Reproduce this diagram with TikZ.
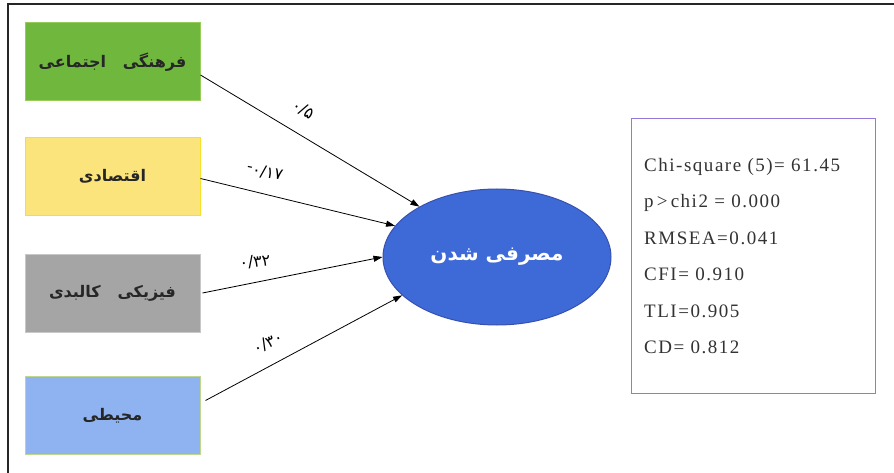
\documentclass[tikz,border=0pt]{standalone}
\usepackage{fontspec}
\setmainfont{Liberation Serif}
\newfontfamily\arabicfont[Script=Arabic]{DejaVu Sans}
\TeXXeTstate=1
\usetikzlibrary{shapes.geometric,arrows.meta,calc}
\definecolor{gfill}{RGB}{112,183,62}
\definecolor{gdraw}{RGB}{150,205,90}
\definecolor{yfill}{RGB}{252,228,125}
\definecolor{ydraw}{RGB}{245,225,40}
\definecolor{kfill}{RGB}{165,165,165}
\definecolor{kdraw}{RGB}{200,200,200}
\definecolor{bfill}{RGB}{143,178,240}
\definecolor{bdraw}{RGB}{190,215,140}
\definecolor{efill}{RGB}{62,106,216}
\definecolor{edraw}{RGB}{55,80,175}
\definecolor{sdraw}{RGB}{150,120,220}
\tikzset{
  factor/.style={draw=#1, line width=1pt, minimum width=175pt, minimum height=78pt, inner sep=0pt,
    font=\arabicfont\bfseries\fontsize{16}{18}\selectfont, text=black!85},
  path/.style={-{Triangle[length=9pt,width=6pt]}, line width=0.8pt, black},
  coef/.style={font=\arabicfont\fontsize{16}{18}\selectfont, inner sep=0pt},
}
\begin{document}
\begin{tikzpicture}[x=1pt,y=-1pt]
\useasboundingbox (0,0) rectangle (894,473);
\fill[white] (0,0) rectangle (894,473);
% frame
\draw[line width=2pt, black!85] (8,473) -- (8,4) -- (894,4);
% factor boxes
\node[factor=gdraw, fill=gfill] (g) at (112.5,62) {\beginR فرهنگی \ \ اجتماعی\endR};
\node[factor=ydraw, fill=yfill] (y) at (112.5,176.5) {\beginR اقتصادی\endR};
\node[factor=kdraw, fill=kfill] (k) at (112.5,293) {\beginR فیزیکی \ \ کالبدی\endR};
\node[factor=bdraw, fill=bfill] (b) at (112.5,415.5) {\beginR محیطی\endR};
% outcome
\node[ellipse, draw=edraw, line width=1pt, fill=efill, minimum width=228pt, minimum height=136pt, inner sep=0pt,
  text=white, font=\arabicfont\bfseries\fontsize{20}{24}\selectfont] (e) at (497,257) {\beginR مصرفی شدن\endR};
% stats box
\node[draw=sdraw, line width=1pt, minimum width=244pt, minimum height=274pt, inner sep=0pt] (s) at (753,256) {};
\node[anchor=west, align=left, inner sep=0pt, font=\addfontfeature{LetterSpace=8}\fontsize{19}{36.5}\selectfont, text=black!80] (st) at (644,256)
 {Chi-square (5)= 61.45\\ p\,>\,chi2 = 0.000\\ RMSEA=0.041\\ CFI= 0.910\\ TLI=0.905\\ CD= 0.812};
% paths
\draw[path] ($(g.east)+(0,13)$) -- (e.147);
\draw[path] ($(y.east)+(0,2)$) -- (e.163);
\draw[path] ($(k.east)+(2,0)$) -- (e.180);
\draw[path] ($(b.east)+(5,-15)$) -- (e.202);
% coefficients
\node[coef, rotate=-32] (c1) at (303,110) {۰/۵};
\node[coef, rotate=-12] (c2) at (265,172) {\hbox{\rmfamily\raisebox{3pt}{-}}\hbox{۰/۱۷}};
\node[coef, rotate=6] (c3) at (255,262) {۰/۳۲};
\node[coef, rotate=25] (c4) at (268,343) {۰/۳۰};
\end{tikzpicture}
\end{document}
